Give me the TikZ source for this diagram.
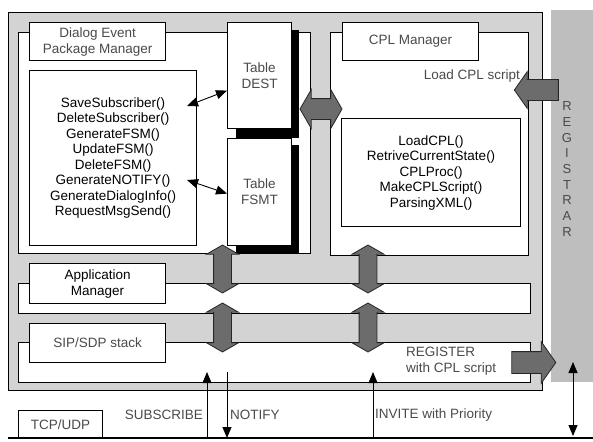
\documentclass[tikz,border=0pt]{standalone}
\usepackage{fontspec}
\setmainfont{Liberation Sans}
\usetikzlibrary{shapes.arrows,arrows.meta}
\definecolor{boxgray}{HTML}{D3D3D3}
\definecolor{reggray}{HTML}{BEBEBE}
\definecolor{blockgray}{HTML}{6C6C6C}
\definecolor{labelgray}{HTML}{4A4A4A}
\newcommand{\lblfont}{\fontsize{13.5}{16}\selectfont}
\newcommand{\fnfont}{\fontsize{13.5}{15.5}\selectfont}
\tikzset{
  panel/.style={draw,line width=1.2pt,fill=white,anchor=north west,inner sep=0pt},
  namebox/.style={panel,align=center,text=labelgray,font=\lblfont},
  fnbox/.style={panel,align=center,font=\fnfont},
  shadowfill/.style={fill=black},
  dblarrow/.style={double arrow,draw=black!85,line width=.8pt,fill=blockgray,inner xsep=0pt,
    inner ysep=8.5pt,double arrow head extend=7pt,double arrow tip angle=120},
  blkarrow/.style={single arrow,draw=black!85,line width=.8pt,fill=blockgray,inner xsep=0pt,
    single arrow tip angle=110},
  thinarrow/.style={line width=.9pt,-{Triangle[width=9pt,length=11pt]}},
  botharrow/.style={line width=.9pt,{Triangle[width=9pt,length=11pt]}-{Triangle[width=9pt,length=11pt]}},
  plaintext/.style={inner sep=0pt,text=labelgray,font=\lblfont}
}
\begin{document}
\begin{tikzpicture}[x=1pt,y=-1pt]
\useasboundingbox (0,0) rectangle (593,441);
% frame and registrar
\node[panel,fill=boxgray,line width=1pt,minimum width=534pt,minimum height=378pt] (frame) at (8,12) {};
\node[anchor=north west,fill=reggray,inner sep=0pt,minimum width=42pt,minimum height=372pt] (reg) at (551,10) {};
\node[plaintext,align=center,font=\fontsize{13}{15.7}\selectfont] (regtext) at (567,169) {R\\E\\G\\I\\S\\T\\R\\A\\R};
% dialog event package manager
\node[panel,minimum width=292pt,minimum height=221pt] (dialog) at (18,32) {};
\node[namebox,minimum width=136pt,minimum height=38pt] (dialogname) at (29,22) {Dialog Event\\Package Manager};
\node[fnbox,minimum width=167pt,minimum height=175pt] (dialogfn) at (29,70) {SaveSubscriber()\\DeleteSubscriber()\\GenerateFSM()\\UpdateFSM()\\DeleteFSM()\\GenerateNOTIFY()\\GenerateDialogInfo()\\RequestMsgSend()};
\node[namebox,minimum width=64pt,minimum height=106pt] (dest) at (227,22) {Table\\DEST};
\fill[shadowfill] ([shift={(0,8)}]dest.north east) rectangle ([shift={(7,9)}]dest.south east);
\fill[shadowfill] ([shift={(9,0)}]dest.south west) rectangle ([shift={(7,9)}]dest.south east);
\node[namebox,minimum width=64pt,minimum height=107pt] (fsmt) at (227,138) {Table\\FSMT};
\fill[shadowfill] ([shift={(0,7)}]fsmt.north east) rectangle ([shift={(7,7)}]fsmt.south east);
\fill[shadowfill] ([shift={(9,0)}]fsmt.south west) rectangle ([shift={(7,7)}]fsmt.south east);
\coordinate (fnA) at (187,106);
\coordinate (fnB) at (187,180);
\draw[botharrow] (fnA) -- ([shift={(0,15)}]dest.west);
\draw[botharrow] (fnB) -- ([shift={(0,1.5)}]fsmt.west);
% cpl manager
\node[panel,minimum width=198pt,minimum height=223pt] (cpl) at (330,32) {};
\node[namebox,minimum width=136pt,minimum height=38pt] (cplname) at (342,22) {CPL Manager};
\node[fnbox,minimum width=179pt,minimum height=108pt] (cplfn) at (341,118) {LoadCPL()\\RetriveCurrentState()\\CPLProc()\\MakeCPLScript()\\ParsingXML()};
\node[plaintext,anchor=east] (loadtxt) at (520,76) {Load CPL script};
% application manager, sip stack
\node[panel,minimum width=512pt,minimum height=30pt] (app) at (18,283) {};
\node[namebox,text=black,minimum width=136pt,minimum height=40pt] (appname) at (29,263) {Application\\Manager};
\node[panel,minimum width=512pt,minimum height=40pt] (sip) at (18,342) {};
\node[namebox,minimum width=136pt,minimum height=39pt] (sipname) at (29,323) {SIP/SDP stack};
\node[plaintext,anchor=west,align=left] (regsend) at (406,361) {REGISTER\\with CPL script};
% block arrows
\node[dblarrow,inner ysep=10pt,double arrow head extend=9pt,minimum height=42pt] (hlink) at (321,109) {};
\node[dblarrow,rotate=90,minimum height=48pt] (linkA) at (222.5,269) {};
\node[dblarrow,rotate=90,minimum height=49pt] (linkB) at (222.5,327.5) {};
\node[dblarrow,rotate=90,minimum height=48pt] (linkC) at (368,269) {};
\node[dblarrow,rotate=90,minimum height=49pt] (linkD) at (368,327.5) {};
\node[blkarrow,rotate=180,inner ysep=10pt,single arrow head extend=8pt,minimum height=44pt] (loadarrow) at (540,90) {};
\node[blkarrow,inner ysep=10.5pt,single arrow head extend=10pt,minimum height=44pt] (regarrow) at (530,362.5) {};
% network
\node[namebox,minimum width=84pt,minimum height=28pt] (tcp) at (18,410) {TCP/UDP};
\coordinate (lineW) at (8,438);
\coordinate (lineE) at (593,438);
\draw[line width=1.6pt] (lineW) -- (lineE);
\coordinate (subtip) at (207,372);
\coordinate (notifytop) at (227,372);
\coordinate (invitetip) at (373,372);
\coordinate (regtip) at (573,362);
\draw[thinarrow] (subtip |- lineW) -- (subtip);
\draw[thinarrow] (notifytop) -- (notifytop |- lineW);
\draw[thinarrow] (invitetip |- lineW) -- (invitetip);
\draw[botharrow] (regtip) -- ([shift={(0,-2)}]regtip |- lineW);
\node[plaintext,anchor=east] (subtxt) at (203,415) {SUBSCRIBE};
\node[plaintext,anchor=west] (notifytxt) at (230,415) {NOTIFY};
\node[plaintext,anchor=west] (invitetxt) at (375,415) {INVITE with Priority};
\end{tikzpicture}
\end{document}
